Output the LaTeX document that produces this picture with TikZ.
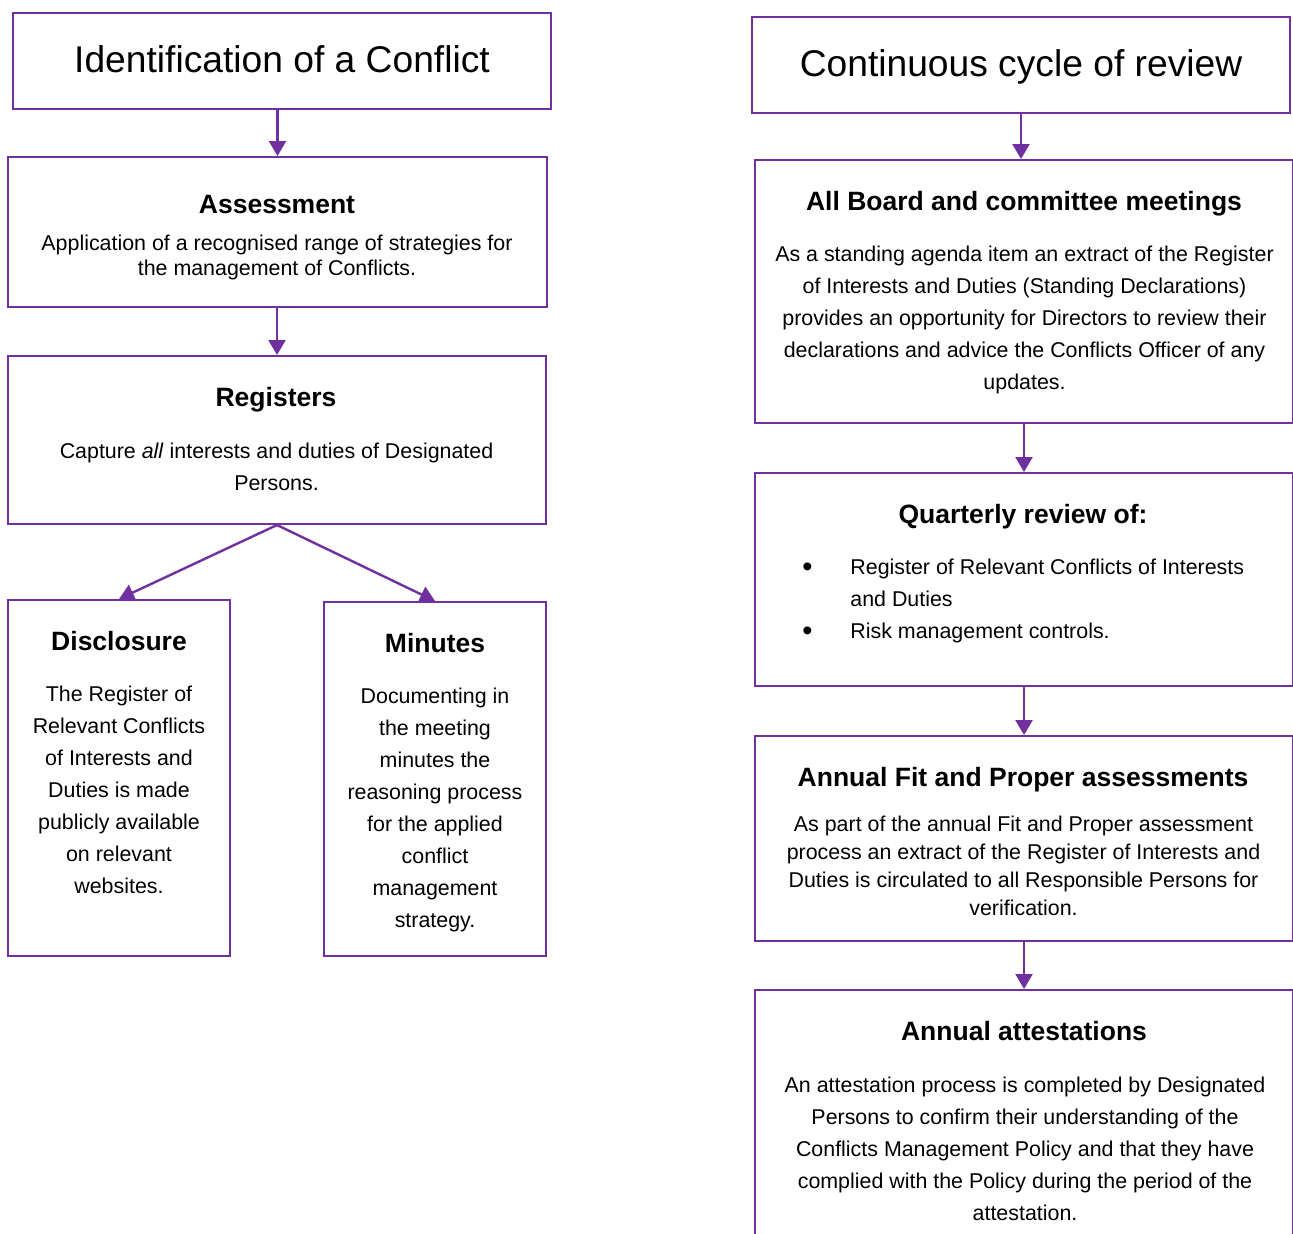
\documentclass[tikz,border=0pt]{standalone}
\usepackage{fontspec}
\setmainfont{Liberation Sans}
\usetikzlibrary{arrows.meta, positioning, fit}
\definecolor{conflictpurple}{HTML}{7030A0}
\newcommand{\bigbullet}{\llap{\raisebox{-0.6pt}{\fontsize{14.5}{14.5}\selectfont\textbullet}\hspace{19pt}}}

\begin{document}
\begin{tikzpicture}[x=0.5pt, y=-0.5pt,
  box/.style={draw=conflictpurple, line width=1pt, inner sep=0pt},
  titlebox/.style={draw=conflictpurple, line width=1.4pt, inner sep=0pt},
  arr/.style={-{Triangle[width=8.5pt,length=7.5pt]}, conflictpurple, line width=1.2pt},
  titletext/.style={anchor=base, inner sep=0pt, font=\fontsize{18.6}{22}\selectfont},
  head/.style={anchor=base, inner sep=0pt, font=\fontsize{13.25}{16}\selectfont\bfseries},
  body/.style={anchor=north, inner sep=0pt, align=center, font=\fontsize{10.7}{16}\selectfont}]
\useasboundingbox (0,0) rectangle (1293,1233);
\clip (0,0) rectangle (1293,1233);

% left column
\node[titlebox, fit={(13,13) (551,109)}] (titleL) {};
\node[titletext] (titleLtext) at (282,72) {Identification of a Conflict};
\node[box, fit={(8,157) (547,307)}] (assess) {};
\node[head] (assesshead) at (277,213.5) {Assessment};
\node[body, font=\fontsize{10.7}{12.5}\selectfont] (assesstext) at (277,235) {Application of a recognised range of strategies for\\the management of Conflicts.};
\node[box, fit={(8,356) (546,524)}] (regs) {};
\node[head] (regshead) at (276,406.5) {Registers};
\node[body] (regstext) at (276.5,443) {Capture \textit{all} interests and duties of Designated\\Persons.};
\node[box, fit={(8,600) (230,956)}] (discl) {};
\node[head] (disclhead) at (119,650.5) {Disclosure};
\node[body] (discltext) at (119,686) {The Register of\\Relevant Conflicts\\of Interests and\\Duties is made\\publicly available\\on relevant\\websites.};
\node[box, fit={(324,602) (546,956)}] (minutes) {};
\node[head] (minuteshead) at (435,652.5) {Minutes};
\node[body] (minutestext) at (435,688) {Documenting in\\the meeting\\minutes the\\reasoning process\\for the applied\\conflict\\management\\strategy.};

\draw[arr] (assess.north |- titleL.south) -- (assess.north);
\draw[arr] (regs.north |- assess.south) -- (regs.north);
\draw[arr] (regs.south) -- (discl.north);
\draw[arr] (regs.south) -- (minutes.north);

% right column
\node[titlebox, fit={(752,17) (1290,113)}] (titleR) {};
\node[titletext] (titleRtext) at (1021,76) {Continuous cycle of review};
\node[box, fit={(755,160) (1293,423)}] (board) {};
\node[head] (boardhead) at (1024,210.5) {All Board and committee meetings};
\node[body] (boardtext) at (1024.5,246) {As a standing agenda item an extract of the Register\\of Interests and Duties (Standing Declarations)\\provides an opportunity for Directors to review their\\declarations and advice the Conflicts Officer of any\\updates.};
\node[box, fit={(755,473) (1293,686)}] (quart) {};
\node[head] (quarthead) at (1023,523.5) {Quarterly review of:};
\node[body, anchor=north west, align=left] (quarttext) at (850,559) {\bigbullet Register of Relevant Conflicts of Interests\\and Duties\\\bigbullet Risk management controls.};
\node[box, fit={(755,736) (1293,941)}] (fitprop) {};
\node[head] (fitprophead) at (1023,786.5) {Annual Fit and Proper assessments};
\node[body, font=\fontsize{10.7}{14}\selectfont] (fitproptext) at (1023.5,816) {As part of the annual Fit and Proper assessment\\process an extract of the Register of Interests and\\Duties is circulated to all Responsible Persons for\\verification.};
\node[box, fit={(755,990) (1293,1280)}] (attest) {};
\node[head] (attesthead) at (1024,1040.5) {Annual attestations};
\node[body] (attesttext) at (1025,1077) {An attestation process is completed by Designated\\Persons to confirm their understanding of the\\Conflicts Management Policy and that they have\\complied with the Policy during the period of the\\attestation.};

\draw[arr] (titleR.south) -- (titleR.south |- board.north);
\draw[arr] (board.south) -- (quart.north);
\draw[arr] (quart.south) -- (fitprop.north);
\draw[arr] (fitprop.south) -- (attest.north);
\end{tikzpicture}
\end{document}
